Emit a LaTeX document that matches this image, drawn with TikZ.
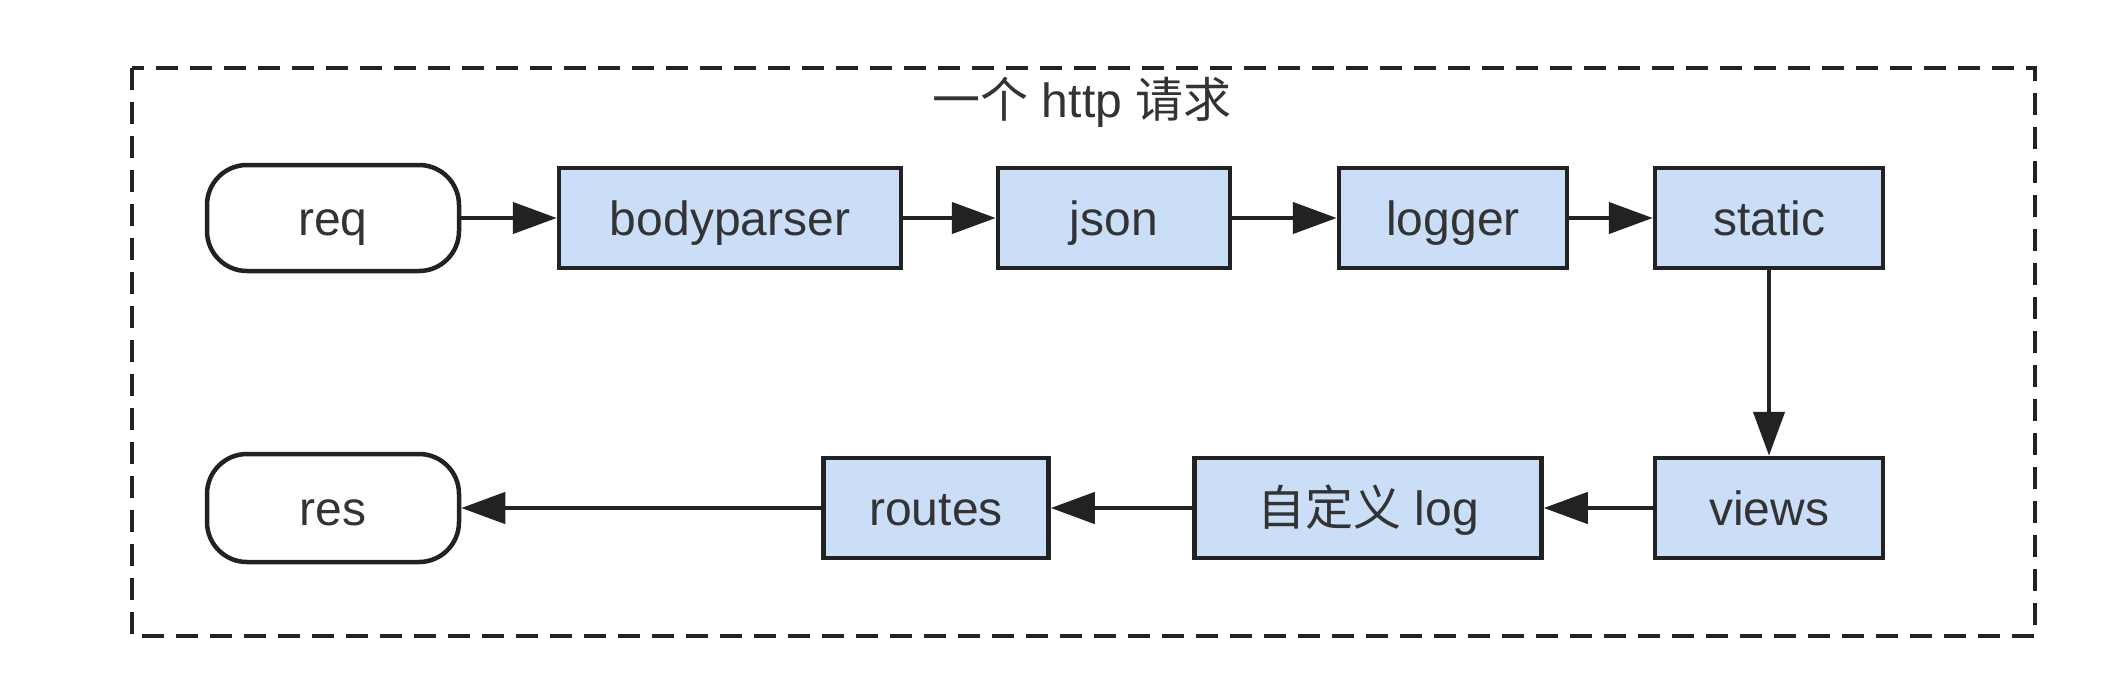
\documentclass[tikz,border=0pt]{standalone}
\usepackage{fontspec}
\setmainfont{Liberation Sans}
\newfontfamily\cjk{Noto Sans CJK SC}
\usetikzlibrary{arrows.meta}
\definecolor{boxfill}{HTML}{CADEF8}
\definecolor{txt}{HTML}{333333}
\definecolor{edge}{HTML}{222222}
\tikzset{
  base/.style={draw=edge, line width=4.5pt, text=txt, font=\fontsize{48}{56}\selectfont, inner sep=0pt, text height=40pt, text depth=5pt, minimum height=100pt},
  mw/.style={base, fill=boxfill},
  term/.style={base, fill=white, rounded corners=40pt, minimum width=252pt, minimum height=106pt},
  conn/.style={draw=edge, line width=4.5pt, -{Triangle[length=44pt,width=31pt]}},
  frame/.style={draw=edge, line width=4.5pt, dash pattern=on 22pt off 12pt}
}
\begin{document}
\begin{tikzpicture}[x=1pt,y=-1pt]
\useasboundingbox (0,0) rectangle (2119,691);
\fill[white] (0,0) rectangle (2119,691);
\draw[frame] (132,68) rectangle (2035,636);
\node[text=txt, font=\fontsize{48}{56}\selectfont] (title) at (1082,102) {{\cjk 一个} http {\cjk 请求}};
\node[term] (req) at (333,218) {req};
\node[mw, minimum width=342pt] (bp) at (730,218) {bodyparser};
\node[mw, minimum width=232pt] (json) at (1114,218) {json};
\node[mw, minimum width=228pt] (logger) at (1453,218) {logger};
\node[mw, minimum width=228pt] (static) at (1769,218) {static};
\node[mw, minimum width=228pt] (views) at (1769,508) {views};
\node[mw, minimum width=347pt] (custom) at (1368,508) {{\cjk 自定义} log};
\node[mw, minimum width=225pt] (routes) at (936,508) {routes};
\node[term, minimum height=108pt] (res) at (333,508) {res};
\draw[conn] (req) -- (bp);
\draw[conn] (bp) -- (json);
\draw[conn] (json) -- (logger);
\draw[conn] (logger) -- (static);
\draw[conn] (static) -- (views);
\draw[conn] (views) -- (custom);
\draw[conn] (custom) -- (routes);
\draw[conn] (routes) -- (res);
\end{tikzpicture}
\end{document}
